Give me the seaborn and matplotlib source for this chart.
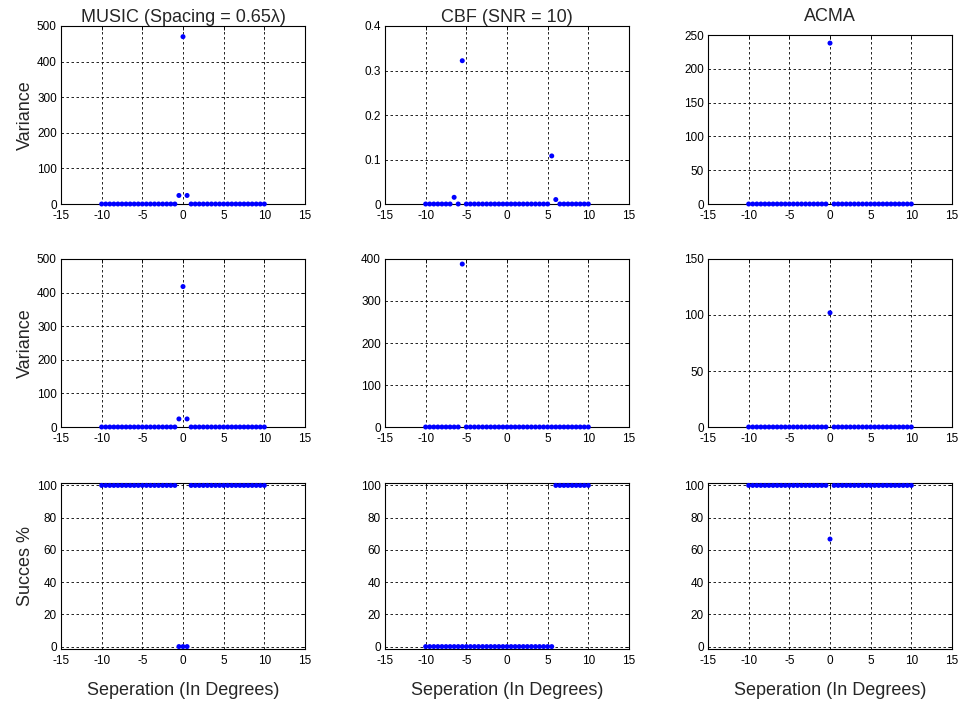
import numpy as np
import pandas as pd
import seaborn as sns
import matplotlib.pyplot as plt

# ---- data ----
separation = [-10.0, -9.5, -9.0, -8.5, -8.0, -7.5, -7.0, -6.5, -6.0, -5.5,
              -5.0, -4.5, -4.0, -3.5, -3.0, -2.5, -2.0, -1.5, -1.0, -0.5,
              0.0, 0.5, 1.0, 1.5, 2.0, 2.5, 3.0, 3.5, 4.0, 4.5,
              5.0, 5.5, 6.0, 6.5, 7.0, 7.5, 8.0, 8.5, 9.0, 9.5, 10.0]

music_var1 = [0, 0, 0, 0, 0, 0, 0, 0, 0, 0,
              0, 0, 0, 0, 0, 0, 0, 0, 0, 24,
              470, 24, 0, 0, 0, 0, 0, 0, 0, 0,
              0, 0, 0, 0, 0, 0, 0, 0, 0, 0, 0]
music_var2 = [0, 0, 0, 0, 0, 0, 0, 0, 0, 0,
              0, 0, 0, 0, 0, 0, 0, 0, 0, 24,
              418, 24, 0, 0, 0, 0, 0, 0, 0, 0,
              0, 0, 0, 0, 0, 0, 0, 0, 0, 0, 0]
music_succ = [100, 100, 100, 100, 100, 100, 100, 100, 100, 100,
              100, 100, 100, 100, 100, 100, 100, 100, 100, 0,
              0, 0, 100, 100, 100, 100, 100, 100, 100, 100,
              100, 100, 100, 100, 100, 100, 100, 100, 100, 100, 100]

cbf_var1 = [0, 0, 0, 0, 0, 0, 0, 0.015, 0, 0.322,
            0, 0, 0, 0, 0, 0, 0, 0, 0, 0,
            0, 0, 0, 0, 0, 0, 0, 0, 0, 0,
            0, 0.108, 0.01, 0, 0, 0, 0, 0, 0, 0, 0]
cbf_var2 = [0, 0, 0, 0, 0, 0, 0, 0, 0, 388,
            0, 0, 0, 0, 0, 0, 0, 0, 0, 0,
            0, 0, 0, 0, 0, 0, 0, 0, 0, 0,
            0, 0, 0, 0, 0, 0, 0, 0, 0, 0, 0]
cbf_succ = [0, 0, 0, 0, 0, 0, 0, 0, 0, 0,
            0, 0, 0, 0, 0, 0, 0, 0, 0, 0,
            0, 0, 0, 0, 0, 0, 0, 0, 0, 0,
            0, 0, 100, 100, 100, 100, 100, 100, 100, 100, 100]

acma_var1 = [0, 0, 0, 0, 0, 0, 0, 0, 0, 0,
             0, 0, 0, 0, 0, 0, 0, 0, 0, 0,
             238, 0, 0, 0, 0, 0, 0, 0, 0, 0,
             0, 0, 0, 0, 0, 0, 0, 0, 0, 0, 0]
acma_var2 = [0, 0, 0, 0, 0, 0, 0, 0, 0, 0,
             0, 0, 0, 0, 0, 0, 0, 0, 0, 0,
             102, 0, 0, 0, 0, 0, 0, 0, 0, 0,
             0, 0, 0, 0, 0, 0, 0, 0, 0, 0, 0]
acma_succ = [100, 100, 100, 100, 100, 100, 100, 100, 100, 100,
             100, 100, 100, 100, 100, 100, 100, 100, 100, 100,
             66.7, 100, 100, 100, 100, 100, 100, 100, 100, 100,
             100, 100, 100, 100, 100, 100, 100, 100, 100, 100, 100]

titles = ["MUSIC (Spacing = 0.65\u03bb)", "CBF (SNR = 10)", "ACMA"]
row_labels = ["Variance", "Variance", "Succes %"]
xlabel = "Seperation (In Degrees)"
xticks = [-15, -10, -5, 0, 5, 10, 15]

grid_data = [
    [music_var1, cbf_var1, acma_var1],
    [music_var2, cbf_var2, acma_var2],
    [music_succ, cbf_succ, acma_succ],
]
yticks = [
    [[0, 100, 200, 300, 400, 500], [0, 0.1, 0.2, 0.3, 0.4], [0, 50, 100, 150, 200, 250]],
    [[0, 100, 200, 300, 400, 500], [0, 100, 200, 300, 400], [0, 50, 100, 150]],
    [[0, 20, 40, 60, 80, 100]] * 3,
]
ylims = [
    [(0, 500), (0, 0.4), (0, 250)],
    [(0, 500), (0, 400), (0, 150)],
    [(-1.5, 101.5)] * 3,
]

# ---- style ----
sns.set_style("white")
plt.rcParams['font.family'] = ['Liberation Sans', 'DejaVu Sans']

W, H = 964, 702
fig = plt.figure(figsize=(W / 100, H / 100), dpi=100)

col_left = [61, 385, 708]
col_w = 244
row_tb = [(26, 204), (259, 427), (483, 649)]

for r in range(3):
    for c in range(3):
        top, bot = row_tb[r]
        if r == 0 and c == 2:
            top = 35
        ax = fig.add_axes([col_left[c] / W, 1 - bot / H, col_w / W, (bot - top) / H])
        df = pd.DataFrame({"x": separation, "y": grid_data[r][c]})
        sns.scatterplot(data=df, x="x", y="y", ax=ax, color="#0000ff",
                        s=13, edgecolor="none", linewidth=0, zorder=3, clip_on=False)
        ax.set_xlim(-15, 15)
        ax.set_ylim(*ylims[r][c])
        ax.set_xticks(xticks)
        ax.set_yticks(yticks[r][c])
        ax.set_xticklabels([str(t) for t in xticks])
        ax.set_yticklabels([("%g" % t) for t in yticks[r][c]])
        ax.tick_params(direction="in", length=3, width=0.6, labelsize=8.5,
                       top=True, right=True, colors="black")
        ax.tick_params(axis="x", pad=4)
        ax.tick_params(axis="y", pad=3)
        ax.grid(True, color="black", linestyle=(0, (3, 3)), linewidth=0.6)
        ax.set_axisbelow(True)
        for sp in ax.spines.values():
            sp.set_visible(True)
            sp.set_color("black")
            sp.set_linewidth(0.8)
        ax.set_xlabel("")
        ax.set_ylabel("")
        if r == 0:
            ax.set_title(titles[c], fontsize=13, pad=3 if c != 2 else 10)
        if c == 0:
            ax.set_ylabel(row_labels[r], fontsize=13, labelpad=2)
        if r == 2:
            ax.set_xlabel(xlabel, fontsize=13, labelpad=11)

fig.savefig("out.png", dpi=100, facecolor="white")
